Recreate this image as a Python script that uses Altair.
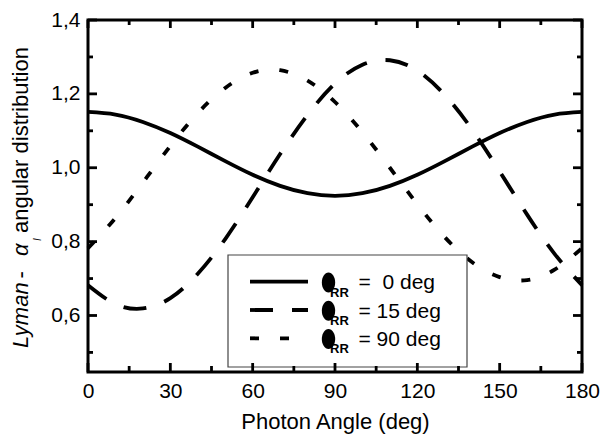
import altair as alt
import pandas as pd

# ---------------- data ----------------
angles = [0, 10, 20, 30, 40, 50, 60, 70, 80, 90, 100, 110, 120, 130, 140, 150, 160, 170, 180]
theta_0 = [1.151, 1.144, 1.124, 1.094, 1.057, 1.018, 0.981, 0.951, 0.931, 0.924,
           0.931, 0.951, 0.981, 1.018, 1.057, 1.094, 1.124, 1.144, 1.151]
theta_15 = [0.682, 0.631, 0.619, 0.647, 0.713, 0.807, 0.920, 1.037, 1.143, 1.228,
            1.279, 1.291, 1.263, 1.197, 1.103, 0.990, 0.873, 0.767, 0.682]
theta_90 = [0.782, 0.864, 0.960, 1.059, 1.148, 1.216, 1.257, 1.264, 1.236, 1.178,
            1.096, 1.000, 0.901, 0.812, 0.744, 0.704, 0.696, 0.724, 0.782]

series_values = [theta_0, theta_15, theta_90]
series_names = ["0 deg", "15 deg", "90 deg"]
legend_labels = ["=\u00a0\u00a00 deg", "= 15 deg", "= 90 deg"]

x_major = [0, 30, 60, 90, 120, 150, 180]
x_minor = [15, 45, 75, 105, 135, 165]
y_major = [0.6, 0.8, 1.0, 1.2, 1.4]
y_minor = [0.5, 0.7, 0.9, 1.1, 1.3]

x_title = "Photon Angle (deg)"

# ---------------- styling ----------------
W, H = 494, 352
TOP = 12
FONT = "Liberation Sans"
dashes = [[1, 0], [23, 19], [9, 21]]
LW = 3.8

xs = alt.Scale(domain=[0, 180], nice=False, zero=False)
ys = alt.Scale(domain=[0.447, 1.4], nice=False, zero=False)

x_axis = alt.Axis(
    values=x_major, ticks=False, tickSize=0, domain=False, grid=False,
    labelFont=FONT, labelFontSize=21, labelColor="black", labelPadding=8,
    labelFlush=False, labelBaseline="top",
    title=x_title, titleFont=FONT, titleFontSize=22, titleFontWeight="normal",
    titleColor="black", titleBaseline="alphabetic", titleY=56)
y_axis = alt.Axis(
    values=y_major, ticks=False, tickSize=0, domain=False, grid=False,
    labelFont=FONT, labelFontSize=21, labelColor="black", labelPadding=8,
    labelFlush=False,
    labelExpr="replace(format(datum.value, '.1f'), '.', ',')",
    title=None)

layers = []

# curves
for i, (name, vals) in enumerate(zip(series_names, series_values)):
    df = pd.DataFrame({"angle": angles, "value": vals, "series": name})
    mk = dict(color="black", strokeWidth=LW, interpolate="natural")
    if i > 0:
        mk["strokeDash"] = dashes[i]
    layers.append(alt.Chart(df).mark_line(**mk).encode(
        x=alt.X("angle:Q", scale=xs, axis=x_axis),
        y=alt.Y("value:Q", scale=ys, axis=y_axis)))

# offsets relative to plot origin (plot top on page = 8 + TOP)
oy = 8 + TOP
one = pd.DataFrame({"a": [0]})
ttl = [
    ("Lyman", dict(fontStyle="italic", fontSize=22), -60, 348 - oy),
    ("-", dict(fontSize=22), -60, 278.5 - oy),
    ("\u03b1", dict(fontStyle="italic", fontSize=22), -60, 256 - oy),
    ("I", dict(fontStyle="italic", fontSize=10), -47, 241 - oy),
    ("angular distribution", dict(fontSize=22), -60, 233 - oy),
]
for txt, kw, xv, yv in ttl:
    layers.append(alt.Chart(one).mark_text(
        text=txt, angle=270, align="left", baseline="alphabetic", font=FONT,
        color="black", **kw
    ).encode(x=alt.value(xv), y=alt.value(yv)))

# legend
layers.append(alt.Chart(one).mark_rect(fill="white", stroke="#444", strokeWidth=1.2).encode(
    x=alt.value(140), x2=alt.value(379), y=alt.value(255 - oy), y2=alt.value(367 - oy)))
rows = [281.7 - oy, 310 - oy, 338.3 - oy]
ellipse = "M 0 -1 A 0.667 1 0 1 1 0 1 A 0.667 1 0 1 1 0 -1 Z"
for i, ry in enumerate(rows):
    rk = dict(color="black", strokeWidth=LW)
    if i > 0:
        rk["strokeDash"] = dashes[i]
    layers.append(alt.Chart(one).mark_rule(**rk).encode(
        x=alt.value(162), x2=alt.value(220), y=alt.value(ry)))
    layers.append(alt.Chart(one).mark_point(
        shape=ellipse, filled=True, fill="black", size=400, opacity=1, strokeWidth=0
    ).encode(x=alt.value(240.5), y=alt.value(ry + 0.8)))
    layers.append(alt.Chart(one).mark_text(
        text="RR", font=FONT, fontSize=13, fontWeight="bold", color="black",
        align="left", baseline="alphabetic"
    ).encode(x=alt.value(242), y=alt.value(ry + 15)))
    layers.append(alt.Chart(one).mark_text(
        text=legend_labels[i], font=FONT, fontSize=21, color="black",
        align="left", baseline="alphabetic"
    ).encode(x=alt.value(270.5), y=alt.value(ry + 7.5)))

# inward ticks on all four sides
xmaj = pd.DataFrame({"angle": x_major})
xmin = pd.DataFrame({"angle": x_minor})
ymaj = pd.DataFrame({"value": y_major})
ymin = pd.DataFrame({"value": y_minor})
tk = dict(color="black", strokeWidth=2.8)
for d, L in [(xmaj, 9), (xmin, 6)]:
    layers.append(alt.Chart(d).mark_rule(**tk).encode(
        x=alt.X("angle:Q", scale=xs, axis=x_axis), y=alt.value(H), y2=alt.value(H - L)))
    layers.append(alt.Chart(d).mark_rule(**tk).encode(
        x=alt.X("angle:Q", scale=xs, axis=x_axis), y=alt.value(0), y2=alt.value(L - 1)))
for d, L in [(ymaj, 9), (ymin, 5)]:
    layers.append(alt.Chart(d).mark_rule(**tk).encode(
        y=alt.Y("value:Q", scale=ys, axis=y_axis), x=alt.value(0), x2=alt.value(L)))
    layers.append(alt.Chart(d).mark_rule(**tk).encode(
        y=alt.Y("value:Q", scale=ys, axis=y_axis), x=alt.value(W), x2=alt.value(W - L)))

chart = alt.layer(*layers).properties(
    width=W, height=H,
    autosize=alt.AutoSizeParams(type="none"),
    padding={"left": 80, "top": TOP, "right": 24, "bottom": 62},
    background="white",
).configure_view(stroke="black", strokeWidth=3)

chart.save("out.html", embed_options={"renderer": "svg", "actions": False})
